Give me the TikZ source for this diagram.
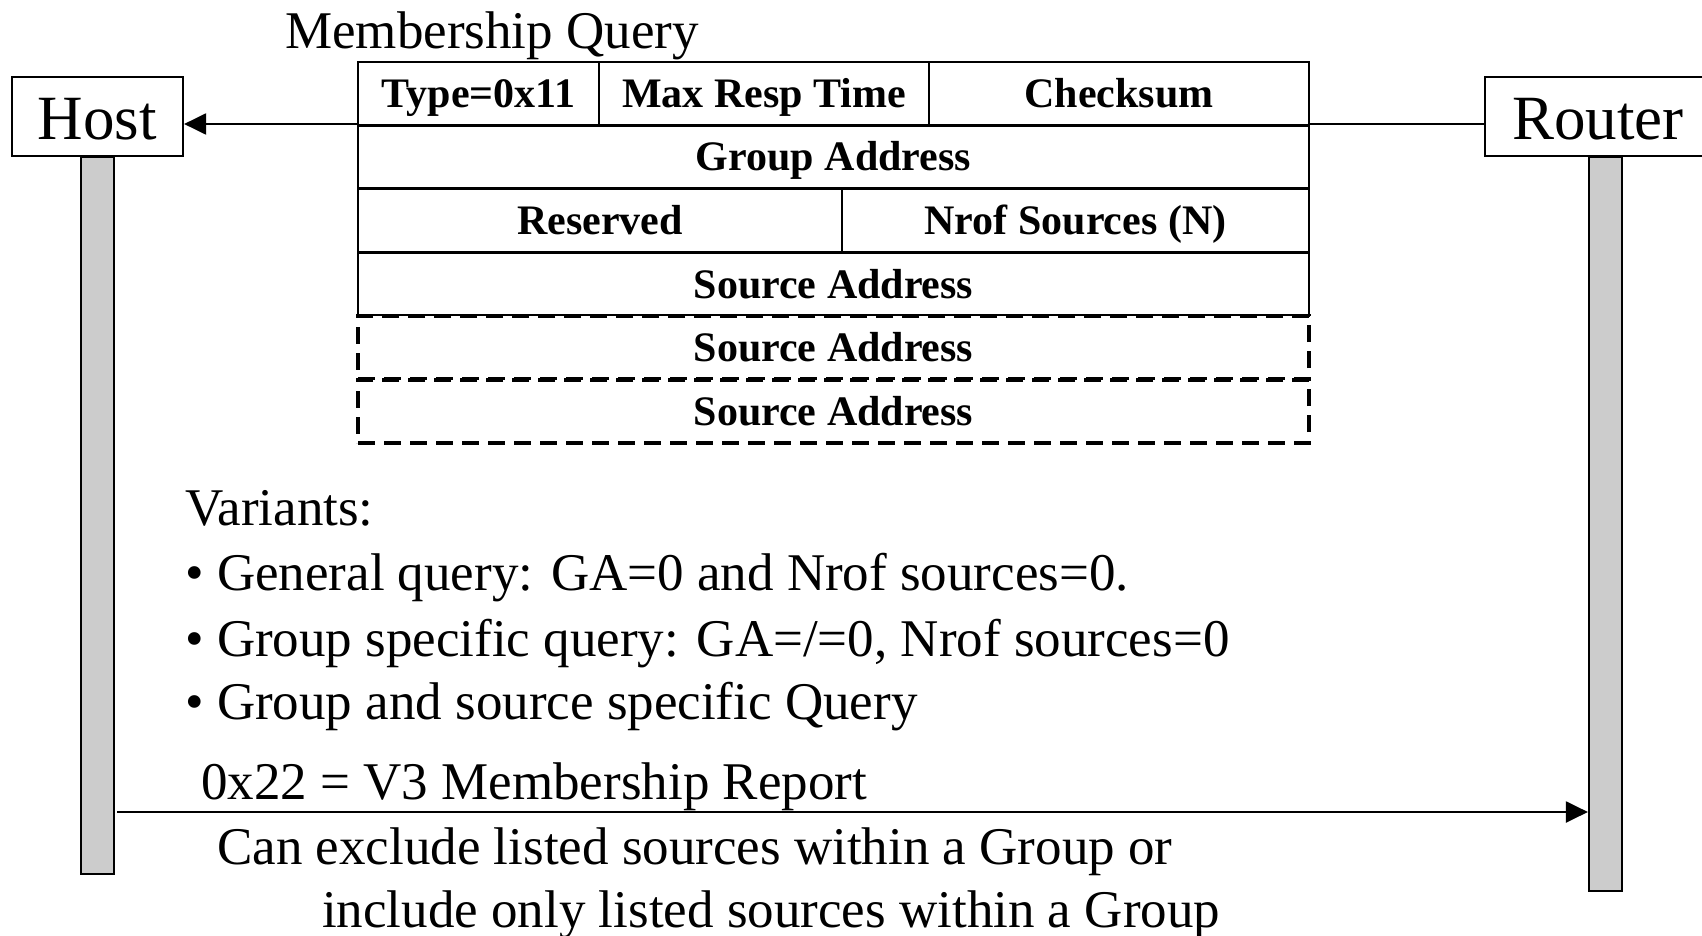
\documentclass[tikz,border=0pt]{standalone}
\usepackage{fontspec}
\setmainfont{Liberation Serif}
\usetikzlibrary{arrows.meta}
\begin{document}
\begin{tikzpicture}[x=1pt,y=-1pt,
  actor/.style={draw, line width=2.2pt, fill=white, inner sep=0pt, text height=47pt, text depth=0pt,
    font=\fontsize{63}{70}\selectfont},
  lifeline/.style={draw, line width=2.2pt, fill=black!20, inner sep=0pt},
  field/.style={draw, line width=2.6pt, fill=white, inner sep=0pt, minimum height=63pt,
    text height=28pt, text depth=0pt, font=\fontsize{42}{50}\selectfont\bfseries},
  dfield/.style={field, line width=3.2pt, dash pattern=on 17pt off 9pt},
  body/.style={inner sep=0pt, anchor=base west, font=\fontsize{53}{64}\selectfont},
  msg/.style={line width=2.2pt, -{Triangle[length=22pt,width=21pt]}}]
\useasboundingbox (0,0) rectangle (1702,936);

% actors and lifelines
\node[actor, minimum width=171pt, minimum height=79pt] (host) at (97.5,116.5) {Host};
\node[actor, minimum width=226pt, minimum height=79pt] (router) at (1598,116.5) {Router};
\node[lifeline, minimum width=33pt, minimum height=717pt] (hostbar) at (97.5,515.5) {};
\node[lifeline, minimum width=33pt, minimum height=734pt] (routerbar) at (1605.5,524) {};

% query message
\coordinate (qline) at (0,124);
\draw[msg] (router.west |- qline) -- (host.east |- qline);

% title
\node[body] (title) at (285,49) {Membership Query};

% packet format
\node[field, minimum width=241pt] (type) at (478.5,93.5) {Type=0x11};
\node[field, minimum width=330pt] (mrt) at (764,93.5) {Max Resp Time};
\node[field, minimum width=380pt] (cks) at (1119,93.5) {Checksum};
\node[field, minimum width=951pt] (ga) at (833.5,157) {Group Address};
\node[field, minimum width=484pt] (res) at (600,220.5) {Reserved};
\node[field, minimum width=467pt] (nrof) at (1075.5,220.5) {Nrof Sources (N)};
\node[field, minimum width=951pt] (src1) at (833.5,284) {Source Address};
\node[dfield, minimum width=951pt] (src2) at (833.5,347.5) {Source Address};
\node[dfield, minimum width=951pt] (src3) at (833.5,411.5) {Source Address};

% variants
\node[body] (var0) at (185,525) {Variants:};
\node[body] (var1) at (185,590) {• General query: GA=0 and Nrof sources=0.};
\node[body] (var2) at (185,656) {• Group specific query: GA=/=0, Nrof sources=0};
\node[body] (var3) at (185,719) {• Group and source specific Query};

% report message
\coordinate (rline) at (0,812);
\draw[msg] ([xshift=2pt]hostbar.east |- rline) -- (routerbar.west |- rline);
\node[body] (rep) at (201,799) {0x22 = V3 Membership Report};
\node[body] (rep1) at (217,864) {Can exclude listed sources within a Group or};
\node[body] (rep2) at (322,927) {include only listed sources within a Group};
\end{tikzpicture}
\end{document}
